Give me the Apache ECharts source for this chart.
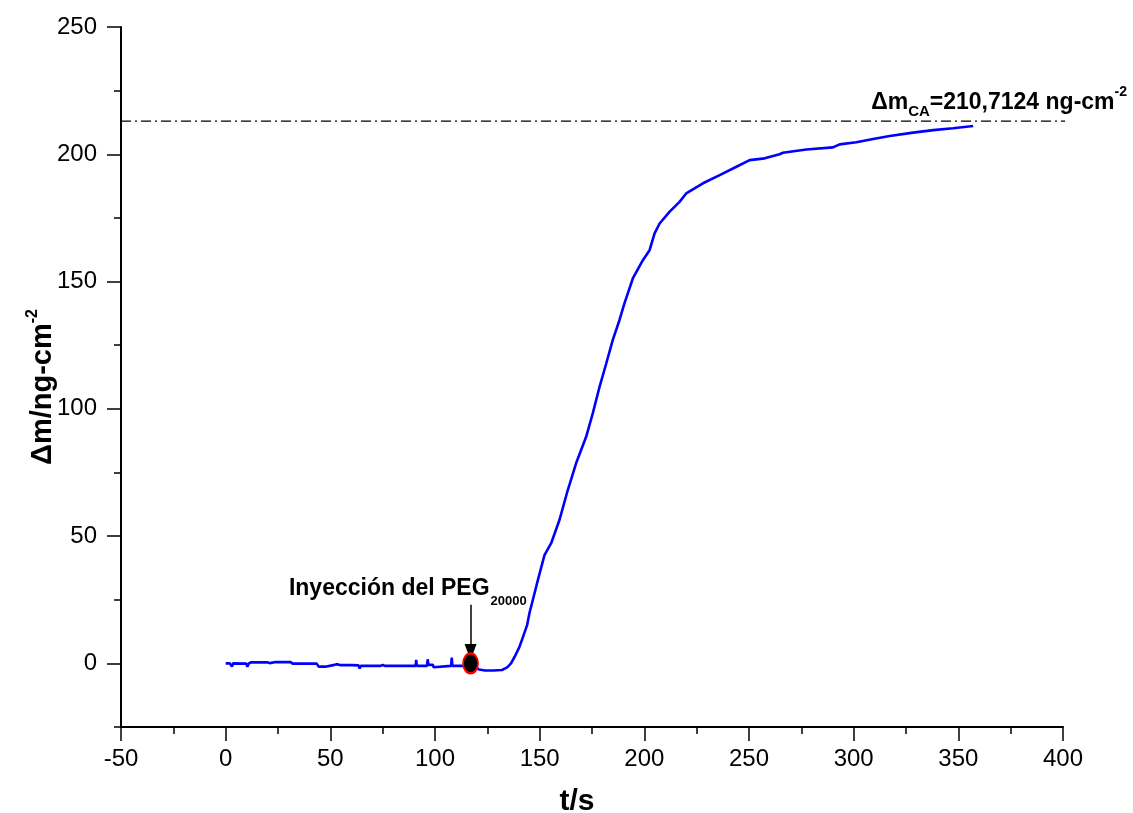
<!DOCTYPE html>
<html><head><meta charset="utf-8">
<script src="https://cdn.jsdelivr.net/npm/echarts@6/dist/echarts.min.js"></script>
<style>html,body{margin:0;padding:0;background:#fff}#c{width:1133px;height:813px}</style>
</head><body><div id="c"></div>
<script>
// ---- data ----
const timeValues = [0,2,3,3.6,9.8,10.4,11,12,20,21,24,31,32,43.5,44.5,47.5,48,52,53,55,60,63.5,64,64.5,74,75,76,86,90.8,91,91.3,96.2,96.5,96.9,99,99.3,99.7,107.7,108,108.3,113,117,119.5,121,124,128,132,134.5,136.3,138,140.3,142,144,145.1,146.7,149.1,152.3,155.5,159.4,163.4,167.4,172.2,175.4,178.6,181.8,184.9,188.1,190.5,194.5,199.3,202.5,204.9,207.3,212,216.8,220,228,236,244,250.3,257.5,264.6,266.2,277.4,290.1,293.3,301.3,309.3,317.2,328.4,338,347.5,357.1];
const massValues = [0,0,-1.2,0,-0.1,-1.3,-0.1,0.4,0.4,0.1,0.5,0.5,-0.1,-0.1,-1.3,-1.3,-0.6,-0.6,-0.3,-0.7,-0.7,-0.8,-2,-1,-1,-0.6,-1,-1,-1,1.4,-1,-1,1.6,-0.6,-0.6,-1.5,-1,-1,2.3,-1,-1,-1,-1.6,-2.4,-2.8,-2.8,-2.6,-1.6,0,2.5,6.4,10.3,15,19.7,24.8,32.6,42.5,47.2,56.2,68,78.6,89,98.3,108.6,117.8,127,134.8,141.4,151.2,158.4,162.3,168.9,172.8,177.4,181.3,184.6,188.6,191.8,195.1,197.7,198.4,200,200.6,201.9,202.7,203.9,204.7,206,207.2,208.5,209.5,210.2,211.1];
const xTickLabels = [-50,0,50,100,150,200,250,300,350,400];
const yTickLabels = [0,50,100,150,200,250];
const yMinorTicks = [-25,25,75,125,175,225];
const plateauLevel = 213;
const plateauSpan = [-50, 425];
const injectionPoint = [117, 0];
const arrowFrom = 23;
const arrowTo = 4.5;
const xAxisTitle = 't/s';
const yAxisTitle = ['Δm/ng-cm', '-2'];
const plateauText = ['Δm', 'CA', '=210,7124 ng-cm', '-2'];
const injectionText = ['Inyección del PEG', '20000'];

const FONT = 'Liberation Sans, Arial, Helvetica, sans-serif';
const chart = echarts.init(document.getElementById('c'), null, {renderer: 'canvas'});

const curve = timeValues.map((t, i) => [t, massValues[i]]);

const yBase = {
  type: 'value', position: 'left', min: -25, max: 250, interval: 25,
  splitLine: {show: false}
};

const option = {
  animation: false,
  backgroundColor: '#fff',
  grid: {left: 121, right: 70, top: 27, bottom: 86, containLabel: false, outerBoundsMode: 'none'},
  xAxis: {
    type: 'value', min: -50, max: 400, interval: 50,
    axisLine: {show: true, onZero: false, lineStyle: {color: '#000', width: 2}},
    axisTick: {show: true, length: 14, lineStyle: {color: '#000', width: 1.5}},
    minorTick: {show: true, splitNumber: 2, length: 7, lineStyle: {color: '#000', width: 1.5}},
    splitLine: {show: false},
    axisLabel: {color: '#000', fontSize: 24, fontFamily: FONT, margin: 20},
    name: xAxisTitle, nameLocation: 'middle', nameGap: 60, nameMoveOverlap: false,
    nameTextStyle: {color: '#000', fontSize: 30, fontWeight: 'bold', fontFamily: FONT, padding: [0, 30, 0, 0]}
  },
  yAxis: [
    Object.assign({}, yBase, {
      axisLine: {show: true, onZero: false, lineStyle: {color: '#000', width: 2}},
      axisTick: {show: true, length: 14, customValues: yTickLabels, lineStyle: {color: '#000', width: 1.5}},
      axisLabel: {color: '#000', fontSize: 24, fontFamily: FONT, margin: 24, customValues: yTickLabels},
      name: '{a|' + yAxisTitle[0] + '}{s|' + yAxisTitle[1] + '}',
      nameLocation: 'middle', nameGap: 60, nameMoveOverlap: false,
      nameTextStyle: {
        color: '#000',
        padding: [0, 20, 0, 0],
        rich: {
          a: {fontSize: 29, fontWeight: 'bold', fontFamily: FONT, color: '#000', lineHeight: 36, verticalAlign: 'middle'},
          s: {fontSize: 16, fontWeight: 'bold', fontFamily: FONT, color: '#000', lineHeight: 16, verticalAlign: 'top'}
        }
      }
    }),
    Object.assign({}, yBase, {
      axisLine: {show: false, onZero: false},
      axisTick: {show: true, length: 7, customValues: yMinorTicks, lineStyle: {color: '#000', width: 1.5}},
      axisLabel: {show: false}
    })
  ],
  series: [
    {
      type: 'line', data: [[plateauSpan[0], plateauLevel], [plateauSpan[1], plateauLevel]],
      clip: false, showSymbol: false, symbol: 'none', silent: true,
      lineStyle: {color: '#000', width: 1.3, type: [10, 4, 2, 4]}
    },
    {
      type: 'line', data: curve, showSymbol: false, symbol: 'none',
      lineStyle: {color: '#0000ff', width: 2.6}
    },
    {
      type: 'scatter', data: [injectionPoint], symbol: 'circle', symbolSize: [15, 20],
      itemStyle: {color: '#000', borderColor: '#ff0000', borderWidth: 2, opacity: 1},
      z: 5,
      markLine: {
        silent: true, animation: false,
        label: {show: false},
        lineStyle: {color: '#000', width: 1.5, type: 'solid'},
        data: [[
          {coord: [injectionPoint[0], arrowFrom], symbol: 'none'},
          {coord: [injectionPoint[0], arrowTo], symbol: 'triangle', symbolSize: [12, 16]}
        ]]
      }
    }
  ]
};
chart.setOption(option);

function addAnnotations() {
  const pA = chart.convertToPixel({gridIndex: 0}, [injectionPoint[0], arrowFrom]);
  const pP = chart.convertToPixel({gridIndex: 0}, [400, plateauLevel]);
  chart.setOption({
    graphic: [
      {
        type: 'text', x: pA[0] + 19, y: pA[1] - 16, silent: true,
        style: {text: injectionText[0], fill: '#000', font: 'bold 23px ' + FONT, align: 'right', verticalAlign: 'middle'}
      },
      {
        type: 'text', x: pA[0] + 20, y: pA[1] - 3, silent: true,
        style: {text: injectionText[1], fill: '#000', font: 'bold 13px ' + FONT, align: 'left', verticalAlign: 'middle'}
      },
      {
        type: 'text', x: pP[0] + 64, y: pP[1] - 2, silent: true,
        style: {
          text: '{m|' + plateauText[0] + '}{b|' + plateauText[1] + '}{m|' + plateauText[2] + '}{t|' + plateauText[3] + '}',
          align: 'right', verticalAlign: 'bottom', fill: '#000',
          rich: {
            m: {font: 'bold 23px ' + FONT, fill: '#000', lineHeight: 34, verticalAlign: 'middle'},
            b: {font: 'bold 15px ' + FONT, fill: '#000', lineHeight: 15, verticalAlign: 'bottom'},
            t: {font: 'bold 14px ' + FONT, fill: '#000', lineHeight: 14, verticalAlign: 'top'}
          }
        }
      }
    ]
  });
}
addAnnotations();
</script>
</body></html>
